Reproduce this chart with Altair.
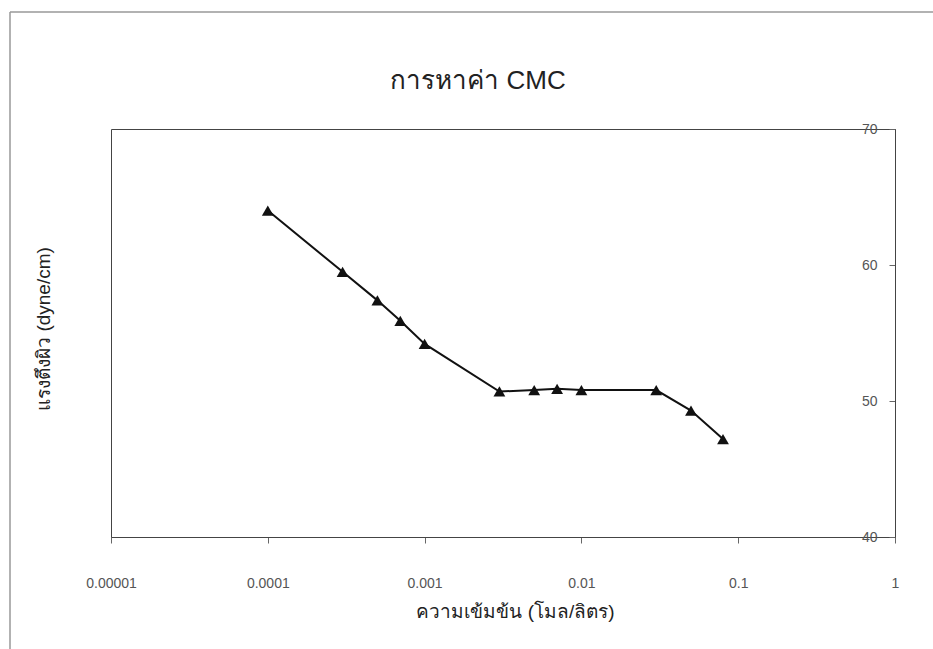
import altair as alt
import pandas as pd

# ---- data ----
concentration = [0.0001, 0.0003, 0.0005, 0.0007, 0.001, 0.003, 0.005, 0.007, 0.01, 0.03, 0.05, 0.08]
surface_tension = [64.0, 59.5, 57.4, 55.9, 54.2, 50.7, 50.8, 50.9, 50.8, 50.8, 49.3, 47.2]
x_ticks = [0.00001, 0.0001, 0.001, 0.01, 0.1, 1]
y_ticks = [40, 50, 60, 70]

title_text = "การหาค่า CMC"
x_title = "ความเข้มข้น (โมล/ลิตร)"
y_title = "แรงตึงผิว (dyne/cm)"

FONT = "Liberation Sans, Arial, sans-serif"
W, H = 784, 408
PAD_L, PAD_T = 111, 129

df = pd.DataFrame({"conc": concentration, "st": surface_tension})

x_enc = alt.X(
    "conc:Q",
    scale=alt.Scale(type="log", domain=[0.00001, 1], nice=False),
    axis=alt.Axis(
        values=x_ticks,
        labelExpr="format(datum.value, '.5~f')",
        title=x_title,
        tickSize=6,
        labelPadding=33,
        labelFontSize=14,
        labelColor="#555",
        labelFont=FONT,
        tickColor="#666",
        domainColor="#444",
        grid=False,
        labelFlush=False,
        labelOverlap=False,
        titleFont=FONT,
        titleFontSize=19,
        titleFontWeight="normal",
        titleColor="#222",
        titlePadding=12,
        titleX=404,
    ),
)

y_enc = alt.Y(
    "st:Q",
    scale=alt.Scale(domain=[40, 70], nice=False, zero=False),
    axis=alt.Axis(
        orient="left",
        offset=-W,
        values=y_ticks,
        title=None,
        tickSize=6,
        labelPadding=12,
        labelFontSize=14,
        labelColor="#555",
        labelFont=FONT,
        tickColor="#666",
        domainColor="#444",
        grid=False,
    ),
)

base = alt.Chart(df)

line = base.mark_line(color="#111", strokeWidth=2).encode(x=x_enc, y=y_enc)
points = base.mark_point(shape="triangle-up", filled=True, size=140, color="#111", opacity=1).encode(
    x=alt.X("conc:Q"), y=alt.Y("st:Q")
)

ytitle = alt.Chart(alt.Data(values=[{"t": y_title}])).mark_text(
    angle=270, fontSize=19, font=FONT, color="#222", baseline="middle"
).encode(text="t:N", x=alt.value(44 - PAD_L), y=alt.value(H / 2 - 4))

maintitle = alt.Chart(alt.Data(values=[{"t": title_text}])).mark_text(
    fontSize=26, font=FONT, color="#222", baseline="middle", align="center"
).encode(text="t:N", x=alt.value(478 - PAD_L), y=alt.value(81 - PAD_T))

frame_data = alt.Data(values=[{"k": 1}])
frame_left = alt.Chart(frame_data).mark_rule(color="#999", strokeWidth=1.5).encode(
    x=alt.value(10 - PAD_L), y=alt.value(12 - PAD_T), y2=alt.value(649 - PAD_T)
)
frame_top = alt.Chart(frame_data).mark_rule(color="#999", strokeWidth=1.5).encode(
    x=alt.value(10 - PAD_L), x2=alt.value(933 - PAD_L), y=alt.value(12 - PAD_T)
)

chart = (
    alt.layer(frame_left, frame_top, line, points, ytitle, maintitle)
    .properties(
        width=W,
        height=H,
        autosize=alt.AutoSizeParams(type="none"),
        padding={"left": PAD_L, "top": PAD_T, "right": 933 - PAD_L - W, "bottom": 649 - PAD_T - H},
        background="white",
    )
    .configure_view(stroke="#444", strokeWidth=1)
)

chart.save("out.html", embed_options={"renderer": "svg", "actions": False})
